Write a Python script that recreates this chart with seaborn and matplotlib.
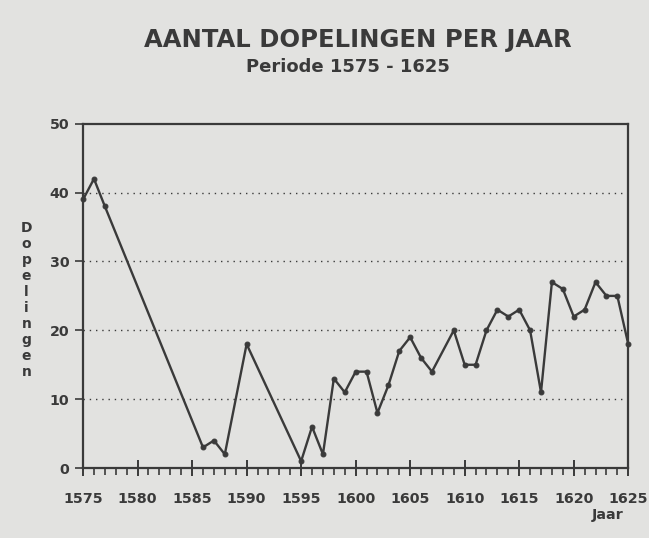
import matplotlib
matplotlib.use("Agg")
import matplotlib.pyplot as plt
from matplotlib.ticker import MultipleLocator
import seaborn as sns
import pandas as pd

# Aantal dopelingen per jaar
jaren = [1575, 1576, 1577, 1586, 1587, 1588, 1590, 1595, 1596, 1597,
         1598, 1599, 1600, 1601, 1602, 1603, 1604, 1605, 1606, 1607,
         1609, 1610, 1611, 1612, 1613, 1614, 1615, 1616, 1617, 1618,
         1619, 1620, 1621, 1622, 1623, 1624, 1625]
dopelingen = [39, 42, 38, 3, 4, 2, 18, 1, 6, 2,
              13, 11, 14, 14, 8, 12, 17, 19, 16, 14,
              20, 15, 15, 20, 23, 22, 23, 20, 11, 27,
              26, 22, 23, 27, 25, 25, 18]
y_ticks = [0, 10, 20, 30, 40, 50]
x_ticks = [1575, 1580, 1585, 1590, 1595, 1600, 1605, 1610, 1615, 1620, 1625]

df = pd.DataFrame({"Jaar": jaren, "Dopelingen": dopelingen})

bg = "#e2e2e0"
ink = "#3a3a3a"

sns.set_style("ticks", {"axes.facecolor": bg, "figure.facecolor": bg})
plt.rcParams["font.family"] = ["DejaVu Sans"]
plt.rcParams["font.weight"] = "bold"

fig = plt.figure(figsize=(6.49, 5.38), dpi=100)
ax = fig.add_axes([0.128, 0.130, 0.840, 0.640])

sns.lineplot(data=df, x="Jaar", y="Dopelingen", ax=ax, color=ink,
             linewidth=1.7, marker="o", markersize=3.5,
             markeredgecolor=ink, markerfacecolor=ink, clip_on=False)

for v in y_ticks[1:-1]:
    ax.axhline(v, color=ink, linestyle=(0, (1, 3.5)), linewidth=1.0, zorder=0)

ax.set_xlim(1575, 1625)
ax.set_ylim(0, 50)
ax.set_xticks(x_ticks)
ax.set_xticklabels([str(x) for x in x_ticks])
ax.xaxis.set_minor_locator(MultipleLocator(1))
ax.set_yticks(y_ticks)

for s in ax.spines.values():
    s.set_visible(True)
    s.set_color(ink)
    s.set_linewidth(1.6)

ax.tick_params(axis="x", which="major", bottom=True, direction="inout", length=12,
               width=1.4, color=ink, labelcolor=ink, labelsize=10.3, pad=11)
ax.tick_params(axis="x", which="minor", bottom=True, direction="out", length=5,
               width=1.2, color=ink)
ax.tick_params(axis="y", which="major", left=True, direction="out", length=6,
               width=1.2, color=ink, labelcolor=ink, labelsize=10.3, pad=4)
ax.tick_params(axis="y", which="minor", left=False)
for lab in ax.get_xticklabels() + ax.get_yticklabels():
    lab.set_fontweight("bold")

ax.set_xlabel("")
ax.set_ylabel("")

fig.text(0.552, 1 - 40.5 / 538, "AANTAL DOPELINGEN PER JAAR", ha="center", va="center",
         fontsize=17.5, fontweight="bold", color=ink)
fig.text(0.536, 1 - 67.5 / 538, "Periode 1575 - 1625", ha="center", va="center",
         fontsize=13, fontweight="bold", color=ink)
fig.text(0.937, 1 - 515 / 538, "Jaar", ha="center", va="center",
         fontsize=10.3, fontweight="bold", color=ink)
fig.text(0.041, 1 - 300 / 538, "\n".join("Dopelingen"), ha="center", va="center",
         fontsize=10, fontweight="bold", color=ink, linespacing=1.18)

fig.savefig("out.png", dpi=100, facecolor=bg)
